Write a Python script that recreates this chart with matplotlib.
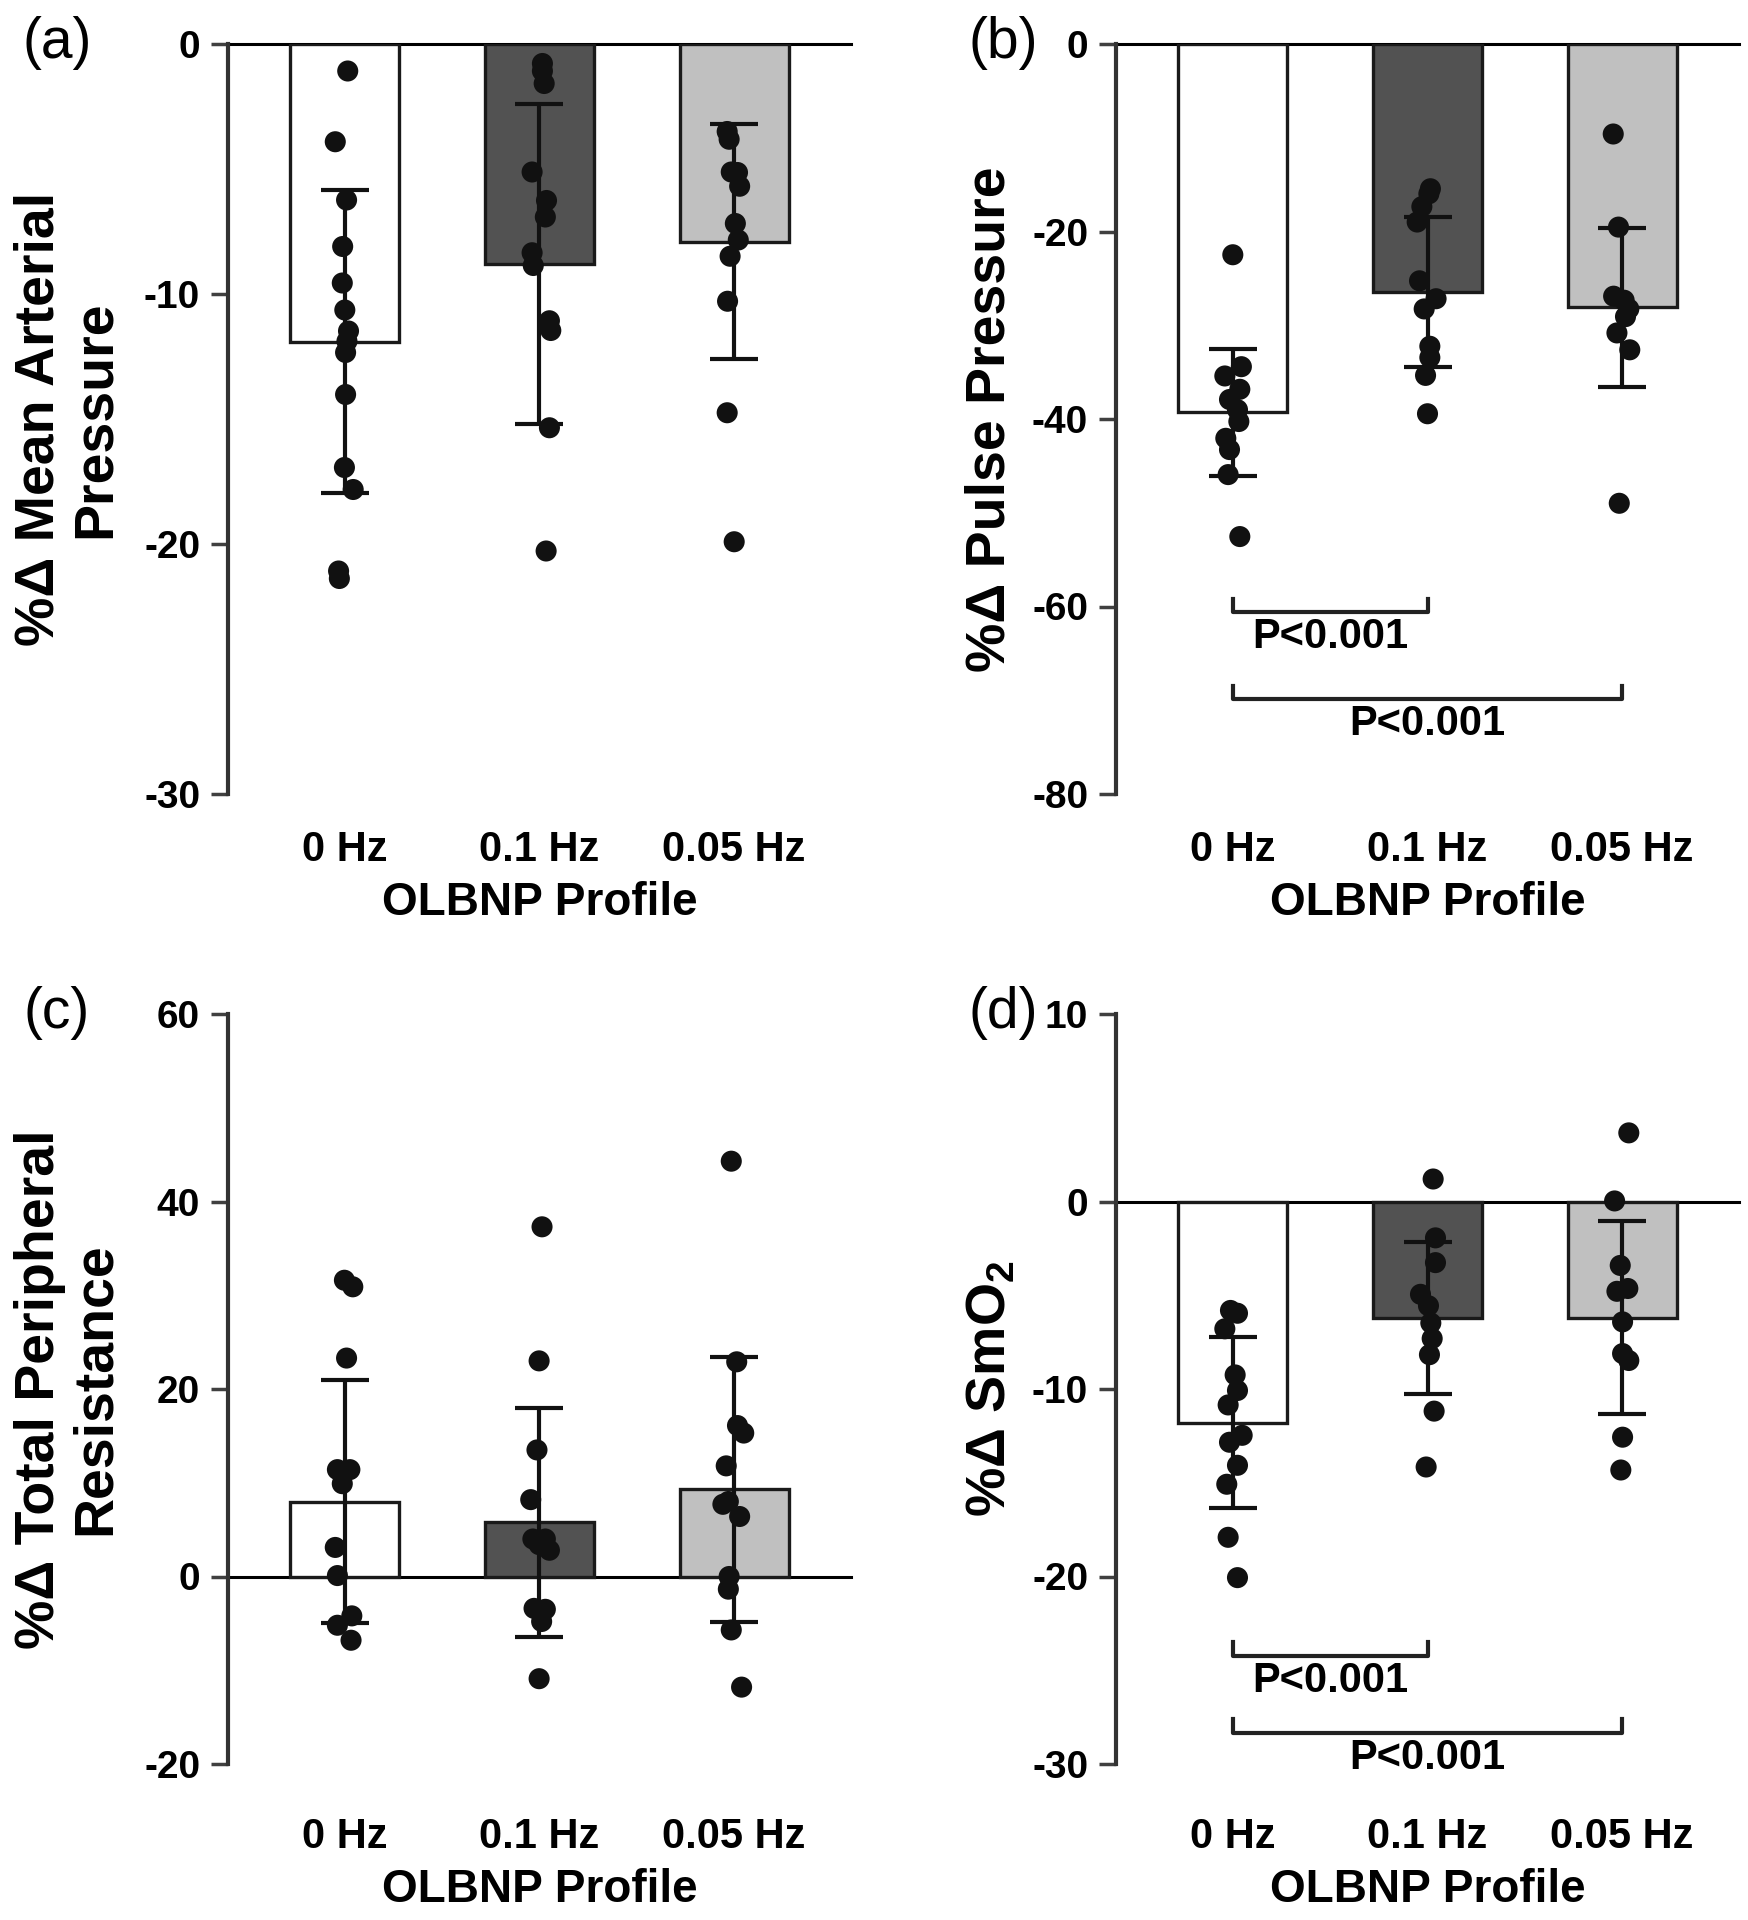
import numpy as np
import matplotlib
matplotlib.use("Agg")
import matplotlib.pyplot as plt

plt.rcParams['font.family'] = ['Liberation Sans', 'DejaVu Sans']
plt.rcParams['mathtext.fontset'] = 'custom'
plt.rcParams['mathtext.rm'] = 'Liberation Sans:bold'
plt.rcParams['mathtext.bf'] = 'Liberation Sans:bold'

groups = ["0 Hz", "0.1 Hz", "0.05 Hz"]
bar_colors = ["#ffffff", "#525252", "#c0c0c0"]

# (a) mean arterial pressure
map_mean = [-11.9, -8.8, -7.9]
map_sd = [6.05, 6.4, 4.7]
map_0 = [-1.08, -3.91, -6.24, -8.10, -9.56, -10.64, -11.48, -11.89, -12.34, -14.02, -16.94, -17.82, -21.08, -21.38]
map_1 = [-0.78, -1.08, -1.58, -5.12, -6.26, -6.92, -8.35, -8.86, -11.07, -11.46, -15.35, -20.28]
map_2 = [-3.50, -3.81, -5.12, -5.14, -5.69, -7.18, -7.84, -8.49, -10.29, -14.75, -19.91]
map_jit = [[.015, -.049, .009, -.011, -.013, 0, .019, .011, .004, .004, -.002, .043, -.032, -.028],
           [.015, .015, .024, -.038, .036, .030, -.038, -.032, .051, .058, .051, .034],
           [-.036, -.026, -.015, .017, .028, .006, .021, -.021, -.034, -.036, 0]]

# (b) pulse pressure
pp_mean = [-39.3, -26.5, -28.1]
pp_sd = [6.8, 8.0, 8.5]
pp_0 = [-22.48, -35.41, -34.42, -36.83, -37.92, -39.01, -40.27, -42.06, -43.26, -45.93, -52.54]
pp_1 = [-15.44, -15.98, -17.35, -18.99, -25.26, -27.17, -28.26, -32.24, -33.44, -35.35, -39.44]
pp_2 = [-9.60, -19.53, -26.9, -27.33, -28.26, -29.08, -30.82, -32.62, -48.99]
pp_jit = [[0, -.041, .044, .036, -.017, .024, .031, -.036, -.017, -.024, .036],
          [.015, .007, -.029, -.053, -.041, .044, -.017, .012, .012, -.010, 0],
          [-.046, -.019, -.044, .010, .034, .017, -.027, .039, -.015]]

# (c) total peripheral resistance
tpr_mean = [8.0, 5.8, 9.3]
tpr_sd = [13.0, 12.2, 14.1]
tpr_0 = [31.6, 30.9, 23.3, 11.4, 11.4, 9.9, 3.1, 0.1, -4.2, -5.2, -6.8]
tpr_1 = [37.3, 23.0, 13.5, 8.2, 4.0, 4.0, 3.4, 2.8, -3.4, -3.5, -4.8, -10.9]
tpr_2 = [44.3, 22.9, 16.1, 15.3, 11.8, 8.0, 7.7, 6.4, 0.0, -1.35, -5.7, -11.8]
tpr_jit = [[-.002, .041, .009, -.038, .026, -.013, -.049, -.038, .036, -.038, .032],
           [.013, -.002, -.013, -.045, -.034, .030, -.002, .051, -.028, .030, .011, -.002],
           [-.015, .013, .017, .049, -.041, -.030, -.058, .028, -.026, -.030, -.015, .038]]

# (d) SmO2
smo_mean = [-11.8, -6.2, -6.2]
smo_sd = [4.55, 4.05, 5.15]
smo_0 = [-5.81, -5.96, -6.79, -9.25, -10.08, -10.85, -12.47, -12.84, -14.07, -15.08, -17.91, -20.06]
smo_1 = [1.2, -1.94, -3.26, -4.95, -5.56, -6.48, -7.31, -8.17, -11.18, -14.16]
smo_2 = [3.66, 0.03, -3.41, -4.79, -4.64, -6.42, -8.11, -8.48, -12.57, -14.32]
smo_jit = [[-.012, .024, -.041, .012, .024, -.024, .048, -.017, .024, -.031, -.024, .024],
           [.029, .041, .041, -.036, .005, .017, .024, .010, .034, -.007],
           [.034, -.039, -.010, -.027, .029, .002, .002, .034, .002, -.007]]

fig = plt.figure(figsize=(17.49, 19.2), dpi=100)

W, H = 1749, 1920
def add_ax(left, top, right, bottom):
    return fig.add_axes([left / W, 1 - bottom / H, (right - left) / W, (bottom - top) / H])

panels = [
    dict(box=(228, 44, 851, 794), mean=map_mean, sd=map_sd, pts=[map_0, map_1, map_2], jit=map_jit,
         ylim=(-30, 0), ticks=[0, -10, -20, -30], ylabel="%Δ Mean Arterial\nPressure", lx=68, tag="(a)", tx=57,
         brackets=None, pad=26),
    dict(box=(1116, 44, 1739, 794), mean=pp_mean, sd=pp_sd, pts=[pp_0, pp_1, pp_2], jit=pp_jit,
         ylim=(-80, 0), ticks=[0, -20, -40, -60, -80], ylabel="%Δ Pulse Pressure", lx=991, tag="(b)", tx=1003,
         brackets=[(1, -59.2, -60.6, -63.3), (2, -68.5, -69.9, -72.5)], pad=26),
    dict(box=(228, 1014, 851, 1764), mean=tpr_mean, sd=tpr_sd, pts=[tpr_0, tpr_1, tpr_2], jit=tpr_jit,
         ylim=(-20, 60), ticks=[-20, 0, 20, 40, 60], ylabel="%Δ Total Peripheral\nResistance", lx=68, tag="(c)", tx=57,
         brackets=None, pad=38),
    dict(box=(1116, 1014, 1739, 1764), mean=smo_mean, sd=smo_sd, pts=[smo_0, smo_1, smo_2], jit=smo_jit,
         ylim=(-30, 10), ticks=[-30, -20, -10, 0, 10], ylabel="%Δ SmO$_{2}$", lx=991, tag="(d)", tx=1003,
         brackets=[(1, -23.5, -24.25, -25.6), (2, -27.6, -28.35, -29.7)], pad=38),
]

x = np.arange(3)
for p in panels:
    ax = add_ax(*p["box"])
    ax.bar(x, p["mean"], width=0.56, color=bar_colors, edgecolor="#1a1a1a", linewidth=2.4, zorder=2)
    ax.errorbar(x, p["mean"], yerr=p["sd"], fmt="none", ecolor="#111111", elinewidth=3,
                capsize=17, capthick=3, zorder=3)
    for i in range(3):
        ax.scatter(np.full(len(p["pts"][i]), x[i]) + np.array(p["jit"][i]), p["pts"][i],
                   s=230, color="#111111", edgecolors="none", zorder=4, clip_on=False)
    ax.axhline(0, color="black", lw=2.2, zorder=1, clip_on=False)
    ax.set_xlim(-0.6, 2.6)
    ax.set_ylim(*p["ylim"])
    ax.set_yticks(p["ticks"])
    ax.set_yticklabels([str(t) for t in p["ticks"]], fontsize=28, fontweight="heavy")
    ax.set_xticks(x)
    ax.set_xticklabels(groups, fontsize=30, fontweight="bold")
    ax.tick_params(axis="x", length=0, pad=p["pad"])
    ax.tick_params(axis="y", length=12, width=2.5, color="#404040", pad=8)
    for s in ["top", "right", "bottom"]:
        ax.spines[s].set_visible(False)
    ax.spines["left"].set_linewidth(3)
    ax.spines["left"].set_color("#333333")
    ax.set_xlabel("OLBNP Profile", fontsize=33, fontweight="bold", labelpad=8)
    ax.set_facecolor("none")

    ymid = 1 - (p["box"][1] + p["box"][3]) / 2 / H
    fig.text(p["lx"] / W, ymid, p["ylabel"], rotation=90, ha="center", va="center",
             multialignment="center", fontsize=40, fontweight="bold", linespacing=1.1)
    fig.text(p["tx"] / W, 1 - (p["box"][1] - 1) / H, p["tag"], ha="center", va="center", fontsize=41)

    if p["brackets"]:
        for end, ytop, yline, ytext in p["brackets"]:
            ax.plot([0, 0, end, end], [ytop, yline, yline, ytop], color="#222222", lw=3, zorder=2)
            ax.text(end / 2, ytext, "P<0.001", ha="center", va="center", fontsize=30, fontweight="bold")

fig.savefig("out.png", dpi=100)
